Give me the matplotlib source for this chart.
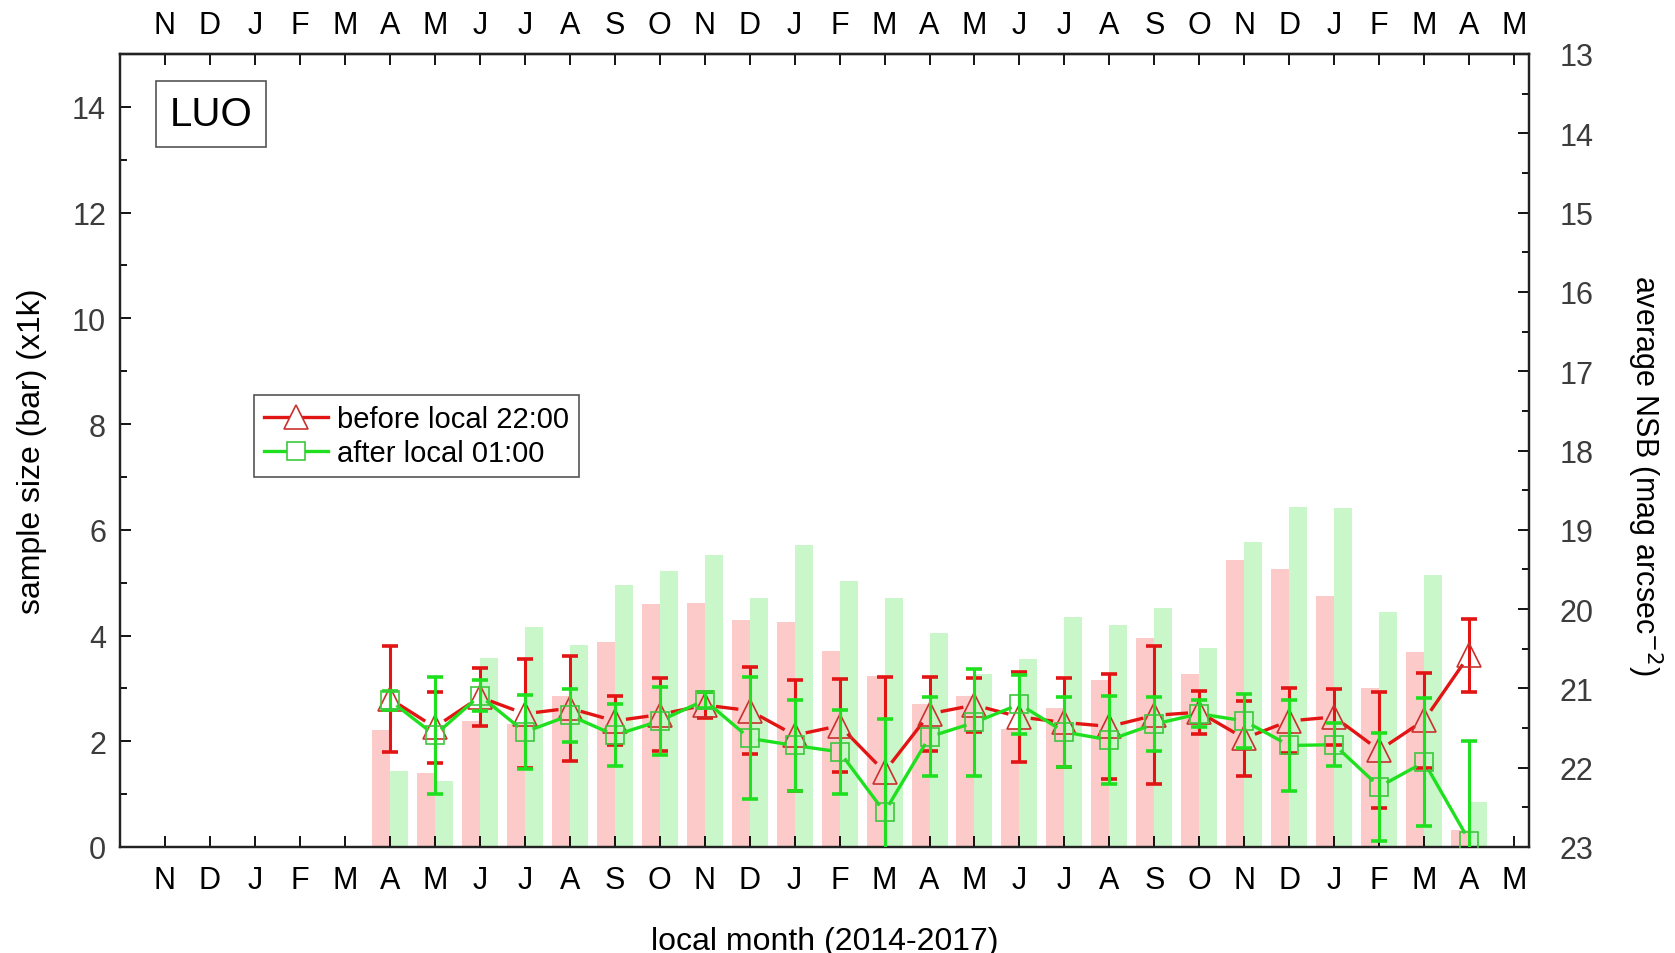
import matplotlib
matplotlib.use("Agg")
import matplotlib.pyplot as plt
from matplotlib.lines import Line2D
from matplotlib.ticker import MultipleLocator
import numpy as np

plt.rcParams['font.family'] = ['Liberation Sans', 'DejaVu Sans']

# ---------------------------------------------------------
# data
# ---------------------------------------------------------
month_labels = ['N', 'D', 'J', 'F', 'M', 'A', 'M', 'J', 'J', 'A', 'S', 'O',
                'N', 'D', 'J', 'F', 'M', 'A', 'M', 'J', 'J', 'A', 'S', 'O',
                'N', 'D', 'J', 'F', 'M', 'A', 'M']
first_idx = 5  # data starts at April 2014

# sample size (x1k) - bars
n_before = [2.21, 1.40, 2.38, 2.32, 2.86, 3.87, 4.60, 4.61, 4.29, 4.25, 3.70, 3.23,
            2.70, 2.85, 2.24, 2.62, 3.15, 3.95, 3.28, 5.42, 5.25, 4.74, 3.01, 3.68, 0.32]
n_after = [1.43, 1.25, 3.58, 4.16, 3.83, 4.95, 5.22, 5.52, 4.71, 5.72, 5.04, 4.71,
           4.05, 3.28, 3.56, 4.36, 4.19, 4.53, 3.77, 5.77, 6.44, 6.42, 4.45, 5.14, 0.85]

# average NSB (mag arcsec^-2) - lines
nsb_before = [21.13, 21.49, 21.11, 21.32, 21.25, 21.41, 21.33, 21.21, 21.28, 21.59, 21.47, 22.05,
              21.32, 21.21, 21.36, 21.43, 21.48, 21.34, 21.30, 21.63, 21.41, 21.36, 21.78, 21.40, 20.58]
err_before = [0.67, 0.45, 0.37, 0.69, 0.66, 0.31, 0.46, 0.16, 0.55, 0.70, 0.59, 1.20,
              0.47, 0.34, 0.57, 0.56, 0.66, 0.87, 0.27, 0.47, 0.41, 0.35, 0.73, 0.60, 0.46]
nsb_after = [21.15, 21.59, 21.09, 21.55, 21.34, 21.59, 21.41, 21.15, 21.63, 21.72, 21.80, 22.56,
             21.61, 21.43, 21.20, 21.55, 21.65, 21.45, 21.32, 21.41, 21.72, 21.71, 22.24, 21.93, 22.92]
err_after = [0.12, 0.74, 0.19, 0.47, 0.33, 0.39, 0.43, 0.10, 0.77, 0.58, 0.53, 1.18,
             0.50, 0.68, 0.37, 0.44, 0.55, 0.34, 0.17, 0.34, 0.57, 0.27, 0.68, 0.81, 1.26]

x_all = np.arange(len(month_labels))
x = np.arange(first_idx, first_idx + len(n_before))

RED = '#e31414'
GREEN = '#1fe01f'
RED_EDGE = '#c8322d'
GREEN_EDGE = '#3cc83c'
TXT_GREY = '#3c3c3c'

# ---------------------------------------------------------
# figure / axes
# ---------------------------------------------------------
W, H = 1675, 954
fig = plt.figure(figsize=(W / 100, H / 100), dpi=100)
ax = fig.add_axes([120 / W, 1 - 848 / H, (1529 - 120) / W, (848 - 55) / H])

bw = 0.4
ax.bar(x, n_before, width=-bw, align='edge', color='#fdcaca', zorder=1)
ax.bar(x, n_after, width=bw, align='edge', color='#c9f7c9', zorder=1)

ax.set_xlim(-1.0, 30.33)
ax.set_ylim(0, 15)
ax.set_xticks(x_all)
ax.set_xticklabels(month_labels, fontsize=22, color='black')
ax.set_yticks(np.arange(0, 15, 2))
ax.yaxis.set_minor_locator(MultipleLocator(1))
ax.tick_params(axis='y', which='major', labelsize=22, labelcolor=TXT_GREY,
               direction='in', length=8, width=1.3, pad=10)
ax.tick_params(axis='y', which='minor', direction='in', length=5, width=1.3)
ax.tick_params(axis='x', which='major', direction='in', length=8, width=1.3, pad=13)

ax.set_ylabel('sample size (bar) (x1k)', fontsize=23, color='black', labelpad=18)
ax.set_xlabel('local month (2014-2017)', fontsize=23, color='black', labelpad=22)

for sp in ax.spines.values():
    sp.set_linewidth(1.6)
    sp.set_color('#222222')

# top month axis
top = ax.secondary_xaxis('top')
top.set_xticks(x_all)
top.set_xticklabels(month_labels, fontsize=22)
top.tick_params(direction='in', length=8, width=1.3, pad=10)
top.spines['top'].set_linewidth(1.6)

# ---------------------------------------------------------
# NSB lines on the right axis
# ---------------------------------------------------------
ax2 = ax.twinx()
ax2.set_ylim(23, 13)
ax2.yaxis.set_major_locator(MultipleLocator(1))
ax2.yaxis.set_minor_locator(MultipleLocator(0.5))
ax2.tick_params(axis='y', which='major', labelsize=22, labelcolor=TXT_GREY,
                direction='in', length=8, width=1.3, pad=22)
ax2.tick_params(axis='y', which='minor', direction='in', length=5, width=1.3)
for sp in ax2.spines.values():
    sp.set_linewidth(1.6)
    sp.set_color('#222222')

# right axis title, placed a bit below the axis centre like the original
fig.text(1645 / W, 1 - 475 / H, 'average NSB (mag arcsec$^{-2}$)', fontsize=22,
         rotation=270, ha='center', va='center')


def gapped_line(axis, xs, ys, gap_px, **kw):
    # connecting line that stops short of each (hollow) marker, Origin style
    pts = axis.transData.transform(np.column_stack([xs, ys]))
    inv = axis.transData.inverted()
    for p0, p1 in zip(pts[:-1], pts[1:]):
        d = p1 - p0
        L = np.hypot(*d)
        if L <= 2 * gap_px:
            continue
        u = d / L
        seg = inv.transform(np.array([p0 + u * gap_px, p1 - u * gap_px]))
        axis.plot(seg[:, 0], seg[:, 1], **kw)


ax2.errorbar(x, nsb_before, yerr=err_before, fmt='none', ecolor=RED,
             elinewidth=2.2, capsize=5.5, capthick=2.6, zorder=3)
gapped_line(ax2, x, nsb_before, 13, color=RED, lw=2.4, zorder=4)
ax2.plot(x, nsb_before, ls='none', marker='^', ms=17,
         mfc='none', mec=RED_EDGE, mew=1.2, zorder=4)

ax2.errorbar(x, nsb_after, yerr=err_after, fmt='none', ecolor=GREEN,
             elinewidth=2.2, capsize=5.5, capthick=2.6, zorder=5)
gapped_line(ax2, x, nsb_after, 10, color=GREEN, lw=2.4, zorder=6)
ax2.plot(x, nsb_after, ls='none', marker='s', ms=13.5,
         mfc='none', mec=GREEN_EDGE, mew=1.2, zorder=6)

# ---------------------------------------------------------
# legend and site label
# ---------------------------------------------------------
handles = [
    (Line2D([], [], color=RED, lw=2.4),
     Line2D([], [], ls='none', marker='^', ms=17, mfc='white', mec=RED_EDGE, mew=1.2)),
    (Line2D([], [], color=GREEN, lw=2.4),
     Line2D([], [], ls='none', marker='s', ms=13.5, mfc='white', mec=GREEN_EDGE, mew=1.2)),
]
leg = ax2.legend(handles, ['before local 22:00', 'after local 01:00'],
                 loc='upper left', bbox_to_anchor=(0.095, 0.570), borderaxespad=0,
                 fontsize=21, frameon=True, fancybox=False, framealpha=1,
                 edgecolor='#555555', handlelength=2.2, handletextpad=0.3,
                 labelspacing=0.2, borderpad=0.35)
leg.get_frame().set_linewidth(1.2)

ax2.text(0.0646, 0.924, 'LUO', transform=ax.transAxes, fontsize=29,
         ha='center', va='center',
         bbox=dict(boxstyle='square,pad=0.35', fc='white', ec='#555555', lw=1.2))

plt.savefig('out.png', dpi=100)
